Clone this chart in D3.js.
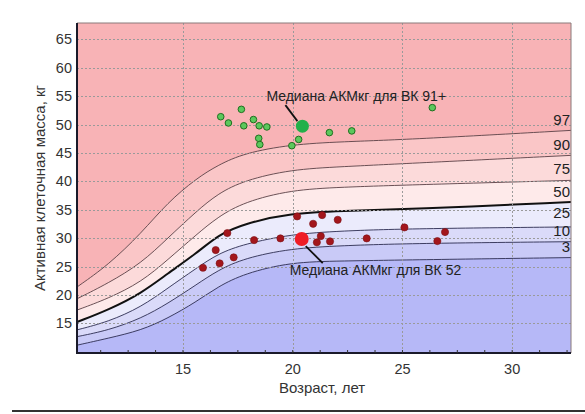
<!doctype html>
<html>
<head>
  <meta charset="utf-8">
  <style>
    body { margin:0; background:#fff; }
    svg { display:block; font-family:"Liberation Sans", Arial, sans-serif; }
    .grid line { stroke:#9a9a9a; stroke-dasharray:2,2; shape-rendering:crispEdges; }
    .tick-label { fill:#333; font-size:14.5px; }
    .pct-label { fill:#222; font-size:15px; text-anchor:end; }
    .note { fill:#222; font-size:14px; }
  </style>
  <script src="https://cdn.jsdelivr.net/npm/d3@7"></script>
</head>
<body>
<script>

  // percentile curves (age -> active cell mass, kg)
  var ages = [10.2, 11.6, 13.1, 14.3, 15.6, 16.6, 17.8, 19.9, 22.2, 25.4, 32.7];
  var p97  = [21.5, 25.3, 30.9, 36.3, 40.5, 42.9, 45.0, 46.5, 47.0, 47.4, 49.0];
  var p90  = [19.4, 22.1, 25.6, 30.0, 34.7, 37.9, 40.2, 42.1, 42.6, 43.2, 44.6];
  var p75  = [17.4, 19.4, 22.3, 26.2, 30.6, 33.8, 36.4, 38.5, 39.0, 39.4, 40.2];
  var p50  = [15.3, 17.4, 20.3, 23.8, 27.3, 30.6, 32.6, 34.4, 34.8, 35.1, 36.4];
  var p25  = [13.9, 15.3, 17.9, 21.2, 24.7, 27.3, 29.0, 30.7, 31.3, 31.7, 32.0];
  var p10  = [12.7, 13.8, 15.9, 18.5, 21.8, 24.4, 26.5, 28.2, 28.7, 29.1, 29.4];
  var p3   = [11.2, 12.4, 13.8, 15.9, 18.8, 21.5, 23.8, 25.8, 26.0, 26.2, 26.6];
  var pctNames = ["97", "90", "75", "50", "25", "10", "3"];

  // group "ВК 91+" (green)
  var greenAge = [16.72, 17.07, 17.66, 17.77, 18.21, 18.47, 18.82, 18.45, 18.5, 19.96, 20.27, 21.67, 22.69, 26.36];
  var greenVal = [51.4, 50.3, 52.7, 49.8, 50.9, 49.8, 49.6, 47.6, 46.5, 46.3, 47.4, 48.6, 48.9, 53.0];
  var greenMedian = [20.44, 49.74];

  // group "ВК 52" (red)
  var redAge = [20.2, 21.34, 20.93, 22.05, 17.02, 18.24, 19.44, 21.28, 21.1, 21.7, 23.37, 16.49, 16.67, 17.31, 15.91, 25.09, 26.94, 26.59];
  var redVal = [33.85, 34.08, 32.55, 33.25, 30.91, 29.68, 29.98, 30.38, 29.28, 29.45, 29.98, 27.92, 25.58, 26.64, 24.81, 31.91, 31.09, 29.5];
  var redMedian = [20.41, 29.86];

  var xTicks = [15, 20, 25, 30];
  var yTicks = [15, 20, 25, 30, 35, 40, 45, 50, 55, 60, 65];

  var bandColors = ["#f8b3b6", "#fac6c7", "#fcdada", "#feeaea", "#ebebfc", "#dadaf9", "#c9caf7", "#b6b8f7"];

  var width = 585, height = 414;
  var pL = 77, pR = 571, pT = 23, pB = 353;

  var x = d3.scaleLinear().domain([10.17, 32.68]).range([pL, pR]);
  var y = d3.scaleLinear().domain([9.8, 67.9]).range([pB, pT]);

  var smooth = d3.curveBasis;

  var svg = d3.select("body").append("svg")
     .attr("width", width)
     .attr("height", height);

  svg.append("clipPath").attr("id", "plot")
     .append("rect")
     .attr("x", pL).attr("y", pT)
     .attr("width", pR - pL).attr("height", pB - pT);

  var curves = [p97, p90, p75, p50, p25, p10, p3].map(function(vals) {
     return ages.map(function(a, i) { return [a, vals[i]]; });
  });

  var plot = svg.append("g").attr("clip-path", "url(#plot)");

  // bands between curves
  var bounds = [null].concat(curves).concat([null]);
  for (var b = 0; b < bounds.length - 1; b++) {
     var upper = bounds[b], lower = bounds[b + 1];
     var pts = ages.map(function(a, i) {
        return {
           a: a,
           hi: upper ? upper[i][1] : 70,
           lo: lower ? lower[i][1] : 5
        };
     });
     var area = d3.area()
        .curve(smooth)
        .x(function(d) { return x(d.a); })
        .y0(function(d) { return y(d.lo); })
        .y1(function(d) { return y(d.hi); });
     plot.append("path")
        .attr("d", area(pts))
        .attr("fill", bandColors[b])
        .attr("stroke", bandColors[b])
        .attr("stroke-width", 0.5);
  }

  // grid
  var grid = svg.append("g").attr("class", "grid");
  grid.selectAll(".gx").data(xTicks).enter().append("line")
     .attr("x1", function(d) { return Math.round(x(d)) + 0.5; })
     .attr("x2", function(d) { return Math.round(x(d)) + 0.5; })
     .attr("y1", pT).attr("y2", pB);
  grid.selectAll(".gy").data(yTicks).enter().append("line")
     .attr("y1", function(d) { return Math.round(y(d)) + 0.5; })
     .attr("y2", function(d) { return Math.round(y(d)) + 0.5; })
     .attr("x1", pL).attr("x2", pR);

  // percentile lines
  var line = d3.line()
     .curve(smooth)
     .x(function(d) { return x(d[0]); })
     .y(function(d) { return y(d[1]); });

  plot.selectAll(".pct").data(curves).enter().append("path")
     .attr("d", line)
     .attr("fill", "none")
     .attr("stroke", function(d, i) { return i < 3 ? "#5a3e44" : (i == 3 ? "#111" : "#2c2c50"); })
     .attr("stroke-width", function(d, i) { return i == 3 ? 2 : 0.9; });

  // label lift above each curve end (25 sits a bit higher)
  var lift = [5, 5, 6, 5, 9, 6, 6];
  svg.selectAll(".pct-label").data(curves).enter().append("text")
     .attr("class", "pct-label")
     .attr("x", pR - 1)
     .attr("y", function(d, i) { return y(d[d.length - 1][1]) - lift[i]; })
     .text(function(d, i) { return pctNames[i]; });

  // points
  svg.append("g").selectAll("circle")
     .data(greenAge.map(function(a, i) { return [a, greenVal[i]]; }))
     .enter().append("circle")
     .attr("cx", function(d) { return x(d[0]); })
     .attr("cy", function(d) { return y(d[1]); })
     .attr("r", 3.3)
     .attr("fill", "#5cc85c")
     .attr("stroke", "#1f6e1f")
     .attr("stroke-width", 1);

  svg.append("g").selectAll("circle")
     .data(redAge.map(function(a, i) { return [a, redVal[i]]; }))
     .enter().append("circle")
     .attr("cx", function(d) { return x(d[0]); })
     .attr("cy", function(d) { return y(d[1]); })
     .attr("r", 3.6)
     .attr("fill", "#a3161c")
     .attr("stroke", "#7a1015")
     .attr("stroke-width", 0.6);

  // medians + notes
  var gx = x(greenMedian[0]), gy = y(greenMedian[1]);
  svg.append("line")
     .attr("x1", gx - 17).attr("y1", gy - 21)
     .attr("x2", gx - 5).attr("y2", gy - 5)
     .attr("stroke", "#111").attr("stroke-width", 1.8);
  svg.append("circle")
     .attr("cx", gx).attr("cy", gy).attr("r", 6.5)
     .attr("fill", "#22b04a");
  svg.append("text").attr("class", "note")
     .attr("x", gx - 36).attr("y", gy - 25)
     .text("Медиана АКМкг для ВК 91+");

  var rx = x(redMedian[0]), ry = y(redMedian[1]);
  svg.append("line")
     .attr("x1", rx + 4).attr("y1", ry + 7)
     .attr("x2", rx + 21).attr("y2", ry + 24)
     .attr("stroke", "#111").attr("stroke-width", 1.8);
  svg.append("circle")
     .attr("cx", rx).attr("cy", ry).attr("r", 7)
     .attr("fill", "#ee1c25");
  svg.append("text").attr("class", "note")
     .attr("x", rx - 12).attr("y", ry + 36)
     .text("Медиана АКМкг для ВК 52");

  // frame
  svg.append("path")
     .attr("d", "M" + pL + "," + pT + "H" + pR + "V" + pB)
     .attr("fill", "none").attr("stroke", "#8a7a7a").attr("stroke-width", 1);
  svg.append("path")
     .attr("d", "M" + pL + "," + pT + "V" + pB + "H" + pR)
     .attr("fill", "none").attr("stroke", "#1a1a2a").attr("stroke-width", 2);

  // minor x ticks
  svg.append("g").selectAll("line")
     .data(d3.range(11.25, 32.7, 1.25))
     .enter().append("line")
     .attr("x1", function(d) { return x(d); })
     .attr("x2", function(d) { return x(d); })
     .attr("y1", pB).attr("y2", pB - 3)
     .attr("stroke", "#333").attr("stroke-width", 1);

  // tick labels
  svg.selectAll(".xl").data(xTicks).enter().append("text")
     .attr("class", "tick-label")
     .attr("x", function(d) { return x(d); })
     .attr("y", 374)
     .attr("text-anchor", "middle")
     .text(function(d) { return d; });

  svg.selectAll(".yl").data(yTicks).enter().append("text")
     .attr("class", "tick-label")
     .attr("x", 72)
     .attr("y", function(d) { return y(d) + 5; })
     .attr("text-anchor", "end")
     .text(function(d) { return d; });

  // axis titles
  svg.append("text")
     .attr("x", (pL + pR) / 2 - 2)
     .attr("y", 393)
     .attr("text-anchor", "middle")
     .attr("fill", "#333")
     .style("font-size", "15px")
     .text("Возраст, лет");

  svg.append("text")
     .attr("transform", "translate(45," + 188 + ") rotate(-90)")
     .attr("text-anchor", "middle")
     .attr("fill", "#333")
     .style("font-size", "15px")
     .text("Активная клеточная масса, кг");

  // rule under the chart
  svg.append("line")
     .attr("x1", 12).attr("x2", 585)
     .attr("y1", 411).attr("y2", 411)
     .attr("stroke", "#333").attr("stroke-width", 2);

</script>
</body>
</html>
